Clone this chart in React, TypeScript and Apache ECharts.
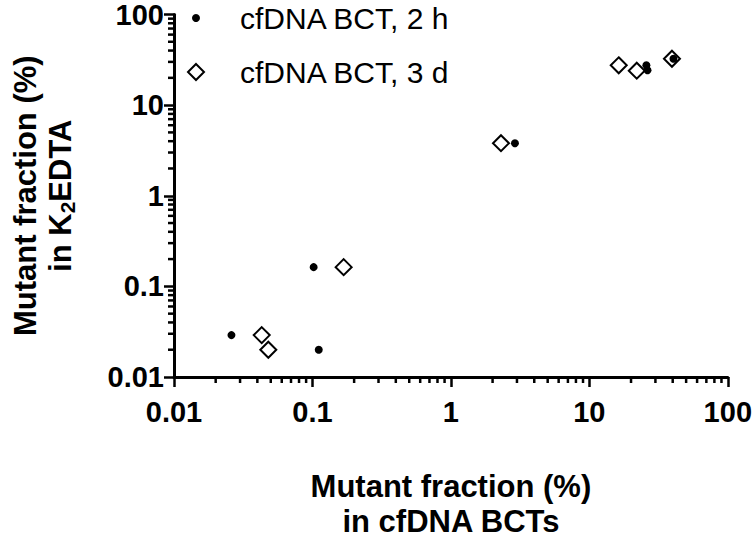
import React, { useEffect, useRef } from "react";
import * as echarts from "echarts";

// ---- data ----
const series2hName = "cfDNA BCT, 2 h";
const series3dName = "cfDNA BCT, 3 d";
const bct2h: [number, number][] = [
  [0.026, 0.029],
  [0.102, 0.163],
  [0.111, 0.020],
  [2.9, 3.8],
  [25.8, 27.5],
  [26.3, 24.3],
  [40.5, 32.5],
];
const bct3d: [number, number][] = [
  [0.043, 0.029],
  [0.048, 0.020],
  [0.168, 0.163],
  [2.3, 3.8],
  [16.3, 27.5],
  [22.0, 24.0],
  [39.5, 32.5],
];
const tickLabels = ["0.01", "0.1", "1", "10", "100"];
const decades = [0.01, 0.1, 1, 10];
const minorMultipliers = [2, 3, 4, 5, 6, 7, 8, 9];

const AXIS_MIN = 0.01;
const AXIS_MAX = 100;
const FONT = "'Liberation Sans', Arial, sans-serif";

const minorValues: number[] = [];
decades.forEach((d) => minorMultipliers.forEach((m) => minorValues.push(+(d * m).toPrecision(3))));

function fmt(v: number): string {
  const hit = tickLabels.find((t) => Math.abs(Number(t) - v) / v < 1e-6);
  return hit ?? "";
}

export default function App() {
  const ref = useRef<HTMLDivElement>(null);
  useEffect(() => {
    if (!ref.current) return;
    const chart = echarts.init(ref.current, undefined, { renderer: "svg" });
    const axisLine = { show: true, onZero: false, lineStyle: { color: "#000", width: 3 } };
    const axisTick = { show: true, inside: false, length: 10, lineStyle: { color: "#000", width: 2.5 } };
    const tickFont = { color: "#000", fontSize: 29, fontWeight: "bold", fontFamily: FONT };
    chart.setOption({
      animation: false,
      backgroundColor: "#fff",
      grid: { left: 165, right: 20, top: 13, bottom: 157, containLabel: false },
      xAxis: {
        type: "log",
        logBase: 10,
        min: AXIS_MIN,
        max: AXIS_MAX,
        axisLine,
        axisTick,
        splitLine: { show: false },
        axisLabel: { ...tickFont, formatter: fmt, margin: 20 },
        name: "Mutant fraction (%)\nin cfDNA BCTs",
        nameLocation: "middle",
        nameGap: 92,
        nameTextStyle: {
          color: "#000",
          fontSize: 31,
          fontWeight: "bold",
          fontFamily: FONT,
          lineHeight: 35,
        },
      },
      yAxis: {
        type: "log",
        logBase: 10,
        min: AXIS_MIN,
        max: AXIS_MAX,
        axisLine,
        axisTick,
        splitLine: { show: false },
        axisLabel: { ...tickFont, formatter: fmt, margin: 10 },
        name: "{b|Mutant fraction (%)}\n{b|in K}{s|2}{b|EDTA}",
        nameLocation: "middle",
        nameRotate: 90,
        nameGap: 96,
        nameTextStyle: {
          color: "#000",
          fontSize: 31,
          fontWeight: "bold",
          fontFamily: FONT,
          lineHeight: 35,
          rich: {
            b: { color: "#000", fontSize: 31, fontWeight: "bold", fontFamily: FONT, lineHeight: 35 },
            s: {
              color: "#000",
              fontSize: 21,
              fontWeight: "bold",
              fontFamily: FONT,
              lineHeight: 21,
              verticalAlign: "bottom",
            },
          },
        },
      },
      series: [
        {
          name: "xMinor",
          type: "custom",
          silent: true,
          clip: false,
          data: minorValues.map((v) => [v]),
          renderItem: (_p: any, api: any) => {
            const v = api.value(0);
            const pt = api.coord([v, AXIS_MIN]);
            return {
              type: "line",
              shape: { x1: pt[0], y1: pt[1], x2: pt[0], y2: pt[1] + 6 },
              style: { stroke: "#000", lineWidth: 2.5 },
            };
          },
        },
        {
          name: "yMinor",
          type: "custom",
          silent: true,
          clip: false,
          data: minorValues.map((v) => [v]),
          renderItem: (_p: any, api: any) => {
            const v = api.value(0);
            const pt = api.coord([AXIS_MIN, v]);
            return {
              type: "line",
              shape: { x1: pt[0] - 6, y1: pt[1], x2: pt[0], y2: pt[1] },
              style: { stroke: "#000", lineWidth: 2.5 },
            };
          },
          encode: { x: -1, y: 0 },
        },
        {
          name: series3dName,
          type: "scatter",
          symbol: "diamond",
          symbolSize: 16,
          itemStyle: { color: "#fff", borderColor: "#000", borderWidth: 2, opacity: 1 },
          data: bct3d,
          z: 3,
        },
        {
          name: series2hName,
          type: "scatter",
          symbol: "circle",
          symbolSize: 8,
          itemStyle: { color: "#000", opacity: 1 },
          data: bct2h,
          z: 4,
        },
      ],
      graphic: [
        { type: "circle", shape: { cx: 196, cy: 18, r: 4 }, style: { fill: "#000" } },
        {
          type: "polygon",
          shape: { points: [[196, 64], [204, 72], [196, 80], [188, 72]] },
          style: { fill: "#fff", stroke: "#000", lineWidth: 2 },
        },
        {
          type: "text",
          x: 240,
          y: 18,
          style: {
            text: series2hName,
            fill: "#000",
            font: `30px ${FONT}`,
            verticalAlign: "middle",
          },
        },
        {
          type: "text",
          x: 240,
          y: 72,
          style: {
            text: series3dName,
            fill: "#000",
            font: `30px ${FONT}`,
            verticalAlign: "middle",
          },
        },
      ],
    });
    return () => chart.dispose();
  }, []);
  return <div ref={ref} style={{ width: 755, height: 544, position: "absolute", left: 0, top: 0 }} />;
}
